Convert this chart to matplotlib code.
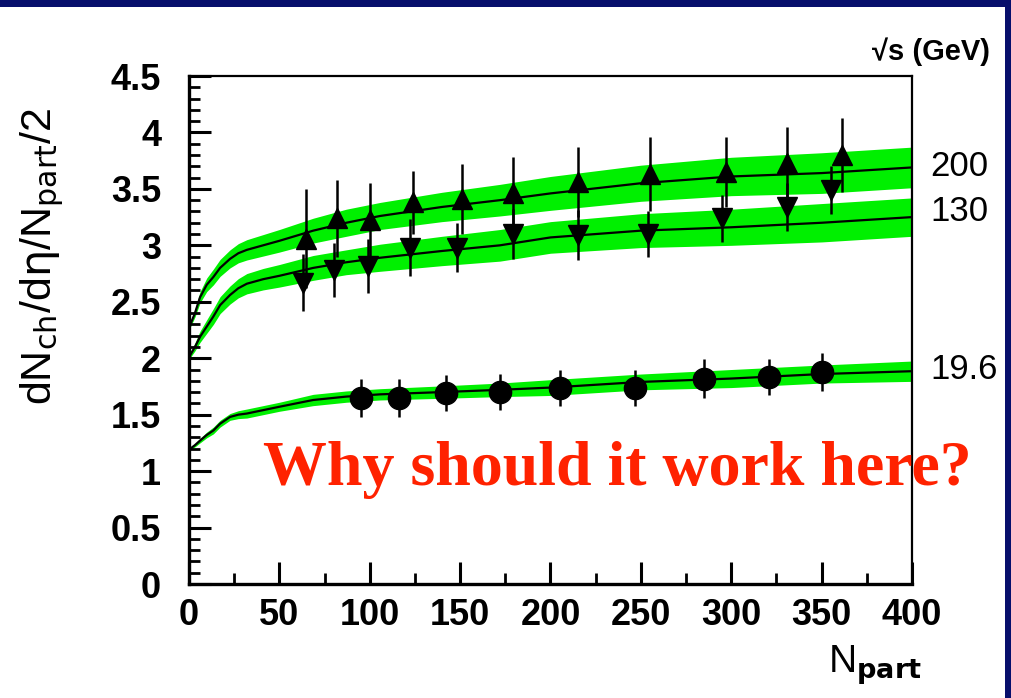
import matplotlib
matplotlib.use("Agg")
import matplotlib.pyplot as plt
from matplotlib.patches import Rectangle
from matplotlib.ticker import MultipleLocator

# ---- data ----
n200 = [65, 82, 100, 124, 151, 179, 215, 255, 297, 331, 361]
y200 = [3.06, 3.24, 3.22, 3.38, 3.41, 3.46, 3.56, 3.63, 3.65, 3.73, 3.80]
e200 = [0.44, 0.34, 0.33, 0.28, 0.31, 0.32, 0.31, 0.33, 0.31, 0.32, 0.33]

n130 = [63, 80, 99, 122, 148, 179, 215, 254, 295, 331, 355]
y130 = [2.67, 2.78, 2.82, 2.98, 2.98, 3.10, 3.09, 3.10, 3.24, 3.34, 3.49]
e130 = [0.25, 0.24, 0.24, 0.25, 0.22, 0.22, 0.22, 0.20, 0.21, 0.21, 0.21]

n196 = [95, 116, 142, 172, 205, 247, 285, 321, 350]
y196 = [1.65, 1.65, 1.69, 1.70, 1.74, 1.74, 1.82, 1.83, 1.88]
e196 = [0.17, 0.17, 0.16, 0.16, 0.16, 0.16, 0.17, 0.16, 0.17]

curve_n = [0, 3.3, 6.1, 9.8, 13.5, 17.2, 22.7, 27.3, 32, 41, 50, 68.7, 87, 105.7,
           140, 172, 200, 250, 300, 350, 400]
c200 = [2.27, 2.40, 2.54, 2.65, 2.72, 2.80, 2.88, 2.93, 2.96, 3.00, 3.04, 3.13, 3.20, 3.26,
        3.34, 3.40, 3.46, 3.55, 3.61, 3.64, 3.69]
c130 = [2.01, 2.10, 2.19, 2.28, 2.37, 2.47, 2.56, 2.62, 2.66, 2.70, 2.73, 2.80, 2.85, 2.89,
        2.95, 3.00, 3.07, 3.13, 3.16, 3.20, 3.25]
c196 = [1.19, 1.23, 1.27, 1.32, 1.36, 1.42, 1.48, 1.50, 1.51, 1.54, 1.57, 1.63, 1.66, 1.68,
        1.70, 1.72, 1.74, 1.79, 1.82, 1.86, 1.885]
w200 = [0.02, 0.035, 0.05, 0.06, 0.07, 0.075, 0.08, 0.085, 0.09, 0.095, 0.10, 0.11, 0.12, 0.12,
        0.13, 0.14, 0.15, 0.16, 0.17, 0.18, 0.18]
w130 = [0.02, 0.035, 0.05, 0.06, 0.07, 0.075, 0.08, 0.085, 0.09, 0.095, 0.10, 0.11, 0.11, 0.12,
        0.13, 0.14, 0.14, 0.15, 0.16, 0.17, 0.17]
w196 = [0.01, 0.015, 0.02, 0.025, 0.03, 0.03, 0.03, 0.035, 0.04, 0.04, 0.04, 0.05, 0.05, 0.05,
        0.055, 0.06, 0.07, 0.07, 0.08, 0.08, 0.09]

energy_labels = ["200", "130", "19.6"]
energy_label_y = [3.70, 3.30, 1.90]

xticks = [0, 50, 100, 150, 200, 250, 300, 350, 400]
yticks = [0, 0.5, 1, 1.5, 2, 2.5, 3, 3.5, 4, 4.5]
ytick_labels = ["0", "0.5", "1", "1.5", "2", "2.5", "3", "3.5", "4", "4.5"]

GREEN = "#00f000"
NAVY = "#070f6c"

fig = plt.figure(figsize=(10.12, 6.98), dpi=100)
fig.patch.set_facecolor("white")
ax = fig.add_axes([189 / 1012, 1 - 584 / 698, (912 - 189) / 1012, (584 - 76) / 698])

for cy, cw in [(c200, w200), (c130, w130), (c196, w196)]:
    lo = [a - b for a, b in zip(cy, cw)]
    hi = [a + b for a, b in zip(cy, cw)]
    ax.fill_between(curve_n, lo, hi, color=GREEN, lw=0, zorder=1)
    ax.plot(curve_n, cy, color="black", lw=1.6, zorder=2)

ax.errorbar(n200, y200, yerr=e200, fmt="^", color="black", ms=14, elinewidth=1.8,
            capsize=0, zorder=3)
ax.errorbar(n130, y130, yerr=e130, fmt="v", color="black", ms=14, elinewidth=1.8,
            capsize=0, zorder=3)
ax.errorbar(n196, y196, yerr=e196, fmt="o", color="black", ms=16, elinewidth=1.8,
            capsize=0, zorder=3)

ax.set_xlim(0, 400)
ax.set_ylim(0, 4.5)
ax.set_xticks(xticks)
ax.set_yticks(yticks)
ax.set_yticklabels(ytick_labels)
ax.xaxis.set_minor_locator(MultipleLocator(25))
ax.yaxis.set_minor_locator(MultipleLocator(0.1))
for lab in ax.get_xticklabels() + ax.get_yticklabels():
    lab.set_fontfamily("Liberation Sans")
    lab.set_fontweight("bold")
    lab.set_fontsize(26)
ax.tick_params(axis="both", which="major", direction="in", length=16, width=2.2,
               top=False, right=False)
ax.tick_params(axis="both", which="minor", direction="in", length=8, width=2.0,
               top=False, right=False)
ax.tick_params(axis="y", which="major", pad=20)
ax.tick_params(axis="x", which="major", pad=10)
ax.spines["left"].set_linewidth(2.4)
ax.spines["bottom"].set_linewidth(2.4)
ax.spines["top"].set_linewidth(1.6)
ax.spines["right"].set_linewidth(1.6)

# y label
fig.text(42 / 1012, 1 - 256 / 698, r"dN$_{\mathrm{ch}}$/d$\mathrm{\eta}$/N$_{\mathrm{part}}$/2",
         rotation=90, ha="center", va="center", fontsize=31, family="Liberation Sans")
# x label
fig.text(875 / 1012, 1 - 665 / 698, r"N$_{\mathbf{part}}$", ha="center", va="center",
         fontsize=28, family="Liberation Sans")

# energy labels
for lab, yv in zip(energy_labels, energy_label_y):
    ax.text(1.025, yv / 4.5, lab, transform=ax.transAxes, ha="left", va="center",
            fontsize=25, family="Liberation Sans", clip_on=False)
fig.text(872 / 1012, 1 - 52 / 698, "√s (GeV)", ha="left", va="center",
         fontsize=21, family="Liberation Sans", weight="bold")

# annotation
fig.text(263 / 1012, 1 - 485 / 698, "Why should it work here?", ha="left", va="baseline",
         fontsize=46, family="Liberation Serif", weight="bold", color="#ff2200", zorder=5)

# slide borders
fig.add_artist(Rectangle((0, 1 - 7 / 698), 1, 7 / 698, transform=fig.transFigure,
                         facecolor=NAVY, edgecolor="none", zorder=20))
fig.add_artist(Rectangle((1005 / 1012, 0), 7 / 1012, 1, transform=fig.transFigure,
                         facecolor=NAVY, edgecolor="none", zorder=20))

fig.savefig("out.png", dpi=100, facecolor="white")
